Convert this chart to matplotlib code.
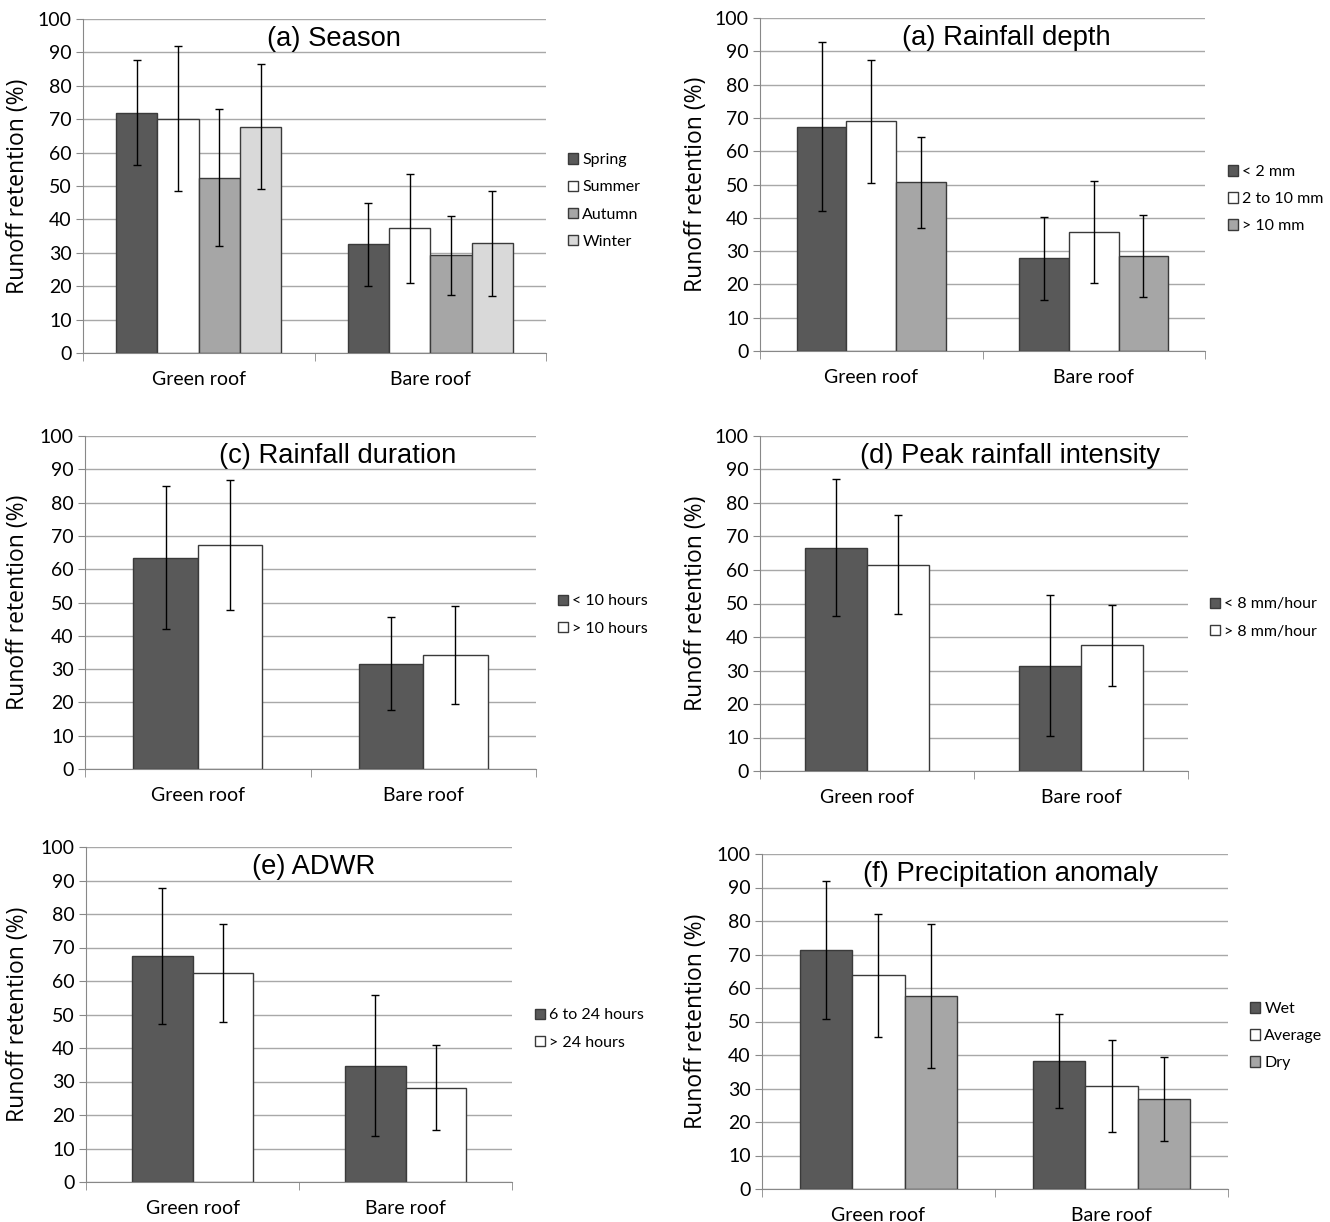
import matplotlib.pyplot as plt

plt.rcParams['font.family'] = ['Lato', 'DejaVu Sans']

categories = ['Green roof', 'Bare roof']

season_series = ['Spring', 'Summer', 'Autumn', 'Winter']
season_mean = [[72.0, 32.5], [70.2, 37.3], [52.5, 29.2], [67.8, 32.8]]
season_err = [[15.6, 12.5], [21.6, 16.2], [20.5, 11.9], [18.7, 15.7]]

depth_series = ['< 2 mm', '2 to 10 mm', '> 10 mm']
depth_mean = [[67.3, 27.8], [69.0, 35.8], [50.7, 28.6]]
depth_err = [[25.4, 12.4], [18.5, 15.3], [13.7, 12.3]]

duration_series = ['< 10 hours', '> 10 hours']
duration_mean = [[63.5, 31.6], [67.3, 34.3]]
duration_err = [[21.5, 14.0], [19.6, 14.7]]

intensity_series = ['< 8 mm/hour', '> 8 mm/hour']
intensity_mean = [[66.7, 31.4], [61.6, 37.5]]
intensity_err = [[20.5, 21.0], [14.7, 12.2]]

adwr_series = ['6 to 24 hours', '> 24 hours']
adwr_mean = [[67.5, 34.7], [62.5, 28.2]]
adwr_err = [[20.4, 21.0], [14.6, 12.8]]

anomaly_series = ['Wet', 'Average', 'Dry']
anomaly_mean = [[71.4, 38.3], [63.8, 30.8], [57.6, 26.9]]
anomaly_err = [[20.6, 14.0], [18.3, 13.8], [21.6, 12.6]]

panels = [
    ('(a) Season', season_series, season_mean, season_err),
    ('(a) Rainfall depth', depth_series, depth_mean, depth_err),
    ('(c) Rainfall duration', duration_series, duration_mean, duration_err),
    ('(d) Peak rainfall intensity', intensity_series, intensity_mean, intensity_err),
    ('(e) ADWR', adwr_series, adwr_mean, adwr_err),
    ('(f) Precipitation anomaly', anomaly_series, anomaly_mean, anomaly_err),
]

# layout in pixels: left, right, y of 100, y of 0, group width, title x, legend x, legend y, ylabel x
boxes = [
    (83, 546, 19, 353, 0.714, 334, 568, 201, 18),
    (760, 1205, 18, 351, 0.67, 1006, 1228, 199, 696),
    (85, 536, 436, 769, 0.57, 338, 558, 615, 18),
    (760, 1188, 436, 771, 0.575, 1010, 1210, 618, 696),
    (86, 512, 847, 1182, 0.57, 314, 535, 1029, 18),
    (762, 1228, 854, 1189, 0.67, 1011, 1250, 1036, 696),
]

fills = ['#595959', '#ffffff', '#a6a6a6', '#d9d9d9']
W, H = 1330, 1222
fig = plt.figure(figsize=(W / 100, H / 100), dpi=100)

for (title, series, means, errs), box in zip(panels, boxes):
    l, r, top, bot, gw, tx, lx, ly, yx = box
    ax = fig.add_axes([l / W, 1 - bot / H, (r - l) / W, (bot - top) / H])
    n = len(series)
    bw = gw / n
    for i in range(n):
        xs = [c - gw / 2 + bw * (i + 0.5) for c in range(len(categories))]
        ax.bar(xs, means[i], width=bw, color=fills[i], edgecolor='#3a3a3a',
               linewidth=1, label=series[i], zorder=2)
        ax.errorbar(xs, means[i], yerr=errs[i], fmt='none', ecolor='black',
                    elinewidth=1, capsize=3, capthick=1, zorder=3)
    ax.set_xlim(-0.5, 1.5)
    ax.set_ylim(0, 100)
    ax.set_yticks(range(0, 101, 10))
    ax.set_xticks(range(len(categories)))
    ax.set_xticklabels(categories)
    ax.set_xticks([-0.5, 0.5, 1.5], minor=True)
    ax.tick_params(axis='x', which='major', length=0, pad=13, labelsize=14)
    ax.tick_params(axis='x', which='minor', length=6, color='#888888')
    ax.tick_params(axis='y', length=5, color='#888888', labelsize=14, pad=3)
    ax.yaxis.grid(True, color='#a8a8a8', linewidth=1)
    ax.set_axisbelow(True)
    for s in ['top', 'right']:
        ax.spines[s].set_visible(False)
    for s in ['left', 'bottom']:
        ax.spines[s].set_color('#888888')
    ax.set_ylabel('Runoff retention (%)', fontsize=16.5, family='Open Sans', va='center')
    ax.yaxis.set_label_coords((yx - l) / (r - l), 0.5)
    ax.text((tx - l) / (r - l), 0.94, title, transform=ax.transAxes,
            ha='center', va='center', fontsize=19.7, family='Liberation Sans')
    ax.legend(loc='center left', bbox_to_anchor=(lx / W, 1 - ly / H),
              bbox_transform=fig.transFigure, frameon=False, fontsize=11.5,
              borderpad=0, borderaxespad=0, handlelength=0.65, handleheight=0.65,
              handletextpad=0.25, labelspacing=0.82)

fig.savefig('out.png', dpi=100)
